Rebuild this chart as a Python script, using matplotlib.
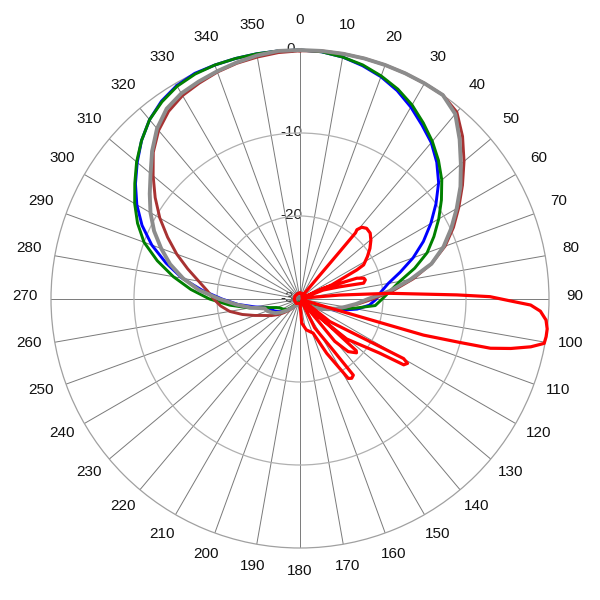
import numpy as np
import matplotlib
matplotlib.use("Agg")
import matplotlib.pyplot as plt

# -------------------------------
# DATA (dB)
# -------------------------------

label_angles = list(range(0, 360, 10))
angles = list(range(0, 360, 5))

blue_db = [0, -0.1, -0.4, -0.9, -1.5, -2.3, -3.3, -4.4, -5.4, -6.7,
           -8.2, -10.0, -11.8, -13.6, -15.5, -17.5, -19.2, -20.2, -20.8, -21.6,
           -23.0, -24.8, -26.3, -27.3, -28.0, -28.6, -29.0, -29.3, -29.4, -29.5,
           -29.5, -29.5, -29.5, -29.5, -29.5, -29.5, -29.5, -29.5, -29.5, -29.5,
           -29.5, -29.5, -29.3, -29.1, -28.8, -28.4, -27.9, -27.4, -27.0, -26.6,
           -26.3, -26.0, -24.5, -22.5, -20.6, -18.2, -15.6, -13.3, -11.0, -9.0,
           -7.3, -5.8, -4.4, -3.0, -1.8, -0.9, -0.3, 0, 0, 0,
           0, 0]

green_db = [0, -0.1, -0.4, -0.8, -1.4, -2.1, -3.0, -4.1, -5.2, -6.4,
            -7.7, -9.2, -10.7, -12.2, -13.7, -15.7, -17.8, -19.1, -20.1, -20.9,
            -23.5, -25.6, -27.0, -27.8, -28.4, -28.9, -29.2, -29.4, -29.5, -29.6,
            -29.6, -29.6, -29.6, -29.6, -29.6, -29.6, -29.6, -29.6, -29.6, -29.6,
            -29.6, -29.6, -29.5, -29.3, -29.0, -28.6, -28.1, -27.8, -27.6, -27.4,
            -27.0, -26.0, -23.8, -21.5, -19.1, -16.8, -14.5, -12.2, -10.0, -8.4,
            -7.0, -5.7, -4.3, -3.0, -1.8, -1.0, -0.4, -0.1, 0, 0,
            0, 0]

brown_db = [-0.1, 0, 0, 0, 0, 0, 0, 0, -0.6, -2.3,
            -4.2, -6.1, -7.9, -9.6, -11.4, -13.6, -16.2, -18.8, -21.2, -23.0,
            -24.4, -25.5, -26.4, -27.2, -27.9, -28.5, -29.0, -29.3, -29.4, -29.4,
            -29.4, -29.4, -29.4, -29.4, -29.4, -29.4, -29.4, -29.4, -29.4, -29.4,
            -29.4, -29.4, -29.2, -28.9, -28.5, -28.0, -27.4, -26.7, -26.0, -25.3,
            -24.2, -22.8, -21.4, -20.4, -19.6, -18.8, -17.6, -16.0, -14.2, -12.4,
            -10.5, -8.7, -6.9, -5.0, -3.5, -2.4, -1.7, -1.3, -0.9, -0.6,
            -0.4, -0.2]

gray_db = [0, 0, 0, 0, 0, 0, 0, 0, -0.9, -2.8,
           -4.7, -6.4, -8.2, -9.9, -11.6, -13.6, -16.5, -19.2, -21.8, -23.2,
           -24.5, -25.5, -26.4, -27.2, -27.9, -28.5, -29.0, -29.3, -29.4, -29.4,
           -29.4, -29.4, -29.4, -29.4, -29.4, -29.4, -29.4, -29.4, -29.4, -29.4,
           -29.4, -29.4, -29.3, -29.0, -28.7, -28.3, -27.8, -27.2, -26.6, -26.2,
           -25.8, -25.6, -24.0, -22.3, -20.3, -17.8, -15.7, -13.8, -12.2, -10.6,
           -9.2, -7.9, -6.5, -4.8, -3.2, -2.0, -1.4, -1.1, -0.8, -0.5,
           -0.2, 0]

# red pattern traced as one path (angle, dB), lobe by lobe
red_deg = [0, 20, 36,
           39.8, 40, 40, 39.4, 40.7, 43.3, 46.8, 50.3, 54.1, 57.8, 61.8, 62.9, 66, 65,
           65.3, 68.6, 69.9, 72, 73.7, 76, 72.9, 68.9, 70,
           84.3, 86.4, 88.5, 89.3, 90.5, 91.5, 92.9, 94.9, 96.9, 98.7, 100.3, 101.7,
           103.2, 104.5, 105.2, 106.3, 106.4, 106.7, 110,
           127.1, 121.8, 119.9, 120.9, 122.4, 124.2, 130.6, 134, 132,
           132.4, 132.6, 133.6, 137.5, 140.6, 140.5, 145,
           153, 147.4, 145, 146.9, 148.7, 153.8, 159, 168.4, 176, 180,
           220, 260, 300, 340, 360]
red_db = [-29.3, -29.3, -29.6,
          -26, -22.5, -19.6, -19.2, -18.6, -18.3, -18.4, -18.9, -19.6, -20.4, -21.3, -22.3, -25.8, -29.7,
          -26.9, -24.8, -22.7, -21.9, -21.8, -22.1, -25, -27, -29.7,
          -25.2, -19.1, -11.1, -7.1, -4.7, -2.2, -1.0, -0.25, 0, 0, -0.1, -1.6,
          -3.9, -6.3, -10, -14.5, -21.4, -26.3, -29.7,
          -25.5, -21, -15.6, -14.9, -15.2, -18.4, -22.6, -27, -29.7,
          -25, -20.8, -20.6, -21.4, -23.4, -26.5, -29.7,
          -26.1, -23, -18.8, -18.6, -18.8, -22.7, -25.6, -26.2, -27.1, -29.5,
          -29.3, -29.3, -29.3, -29.3, -29.3]

r_ticks = [-20, -10]
r_labels = ["0", "-10", "-20", "-30"]
r_label_pos = [0, -10, -20, -30]


def closed(deg, vals):
    th = np.deg2rad(list(deg) + [deg[0] + 360])
    return th, list(vals) + [vals[0]]


fig = plt.figure(figsize=(6, 6), dpi=100)
ax = fig.add_axes([51 / 600, 52 / 600, 498 / 600, 498 / 600], projection="polar")
ax.set_theta_zero_location("N")
ax.set_theta_direction(-1)
ax.set_rlim(-30, 0)

ax.set_thetagrids(label_angles, labels=[""] * len(label_angles))
ax.set_rgrids(r_ticks, labels=[""] * len(r_ticks))
ax.xaxis.grid(True, color="#7a7a7a", lw=0.7)
ax.yaxis.grid(True, color="#b0b0b0", lw=0.9)
ax.spines["polar"].set_color("#a0a0a0")
ax.spines["polar"].set_linewidth(0.9)
ax.tick_params(length=0)

# angle labels round the ring
for a in label_angles:
    ax.annotate(str(a), xy=(np.deg2rad(a), 3.15), xytext=(0, 3.5),
                textcoords="offset pixels", ha="center", va="center",
                fontsize=11, family="Liberation Sans", color="#111111",
                annotation_clip=False)

# dB labels along 0 deg
for lab, r in zip(r_labels, r_label_pos):
    ax.annotate(lab, xy=(0, r), xytext=(-9, 1), textcoords="offset pixels",
                ha="center", va="center", fontsize=11, family="Liberation Sans",
                color="#222222", zorder=1, annotation_clip=False)

th, v = closed(angles, blue_db)
ax.plot(th, v, color="#0000ff", lw=2.1, zorder=3, clip_on=False)
th, v = closed(angles, green_db)
ax.plot(th, v, color="#008000", lw=2.1, zorder=3, clip_on=False)
th, v = closed(angles, brown_db)
ax.plot(th, v, color="#a83232", lw=2.1, zorder=3, clip_on=False)
th, v = closed(angles, gray_db)
ax.plot(th, v, color="#8c8c8c", lw=2.8, zorder=3, clip_on=False)
ax.plot(np.deg2rad(red_deg), red_db, color="#ff0000", lw=2.3, zorder=4, clip_on=False)

fig.savefig("out.png", dpi=100)
